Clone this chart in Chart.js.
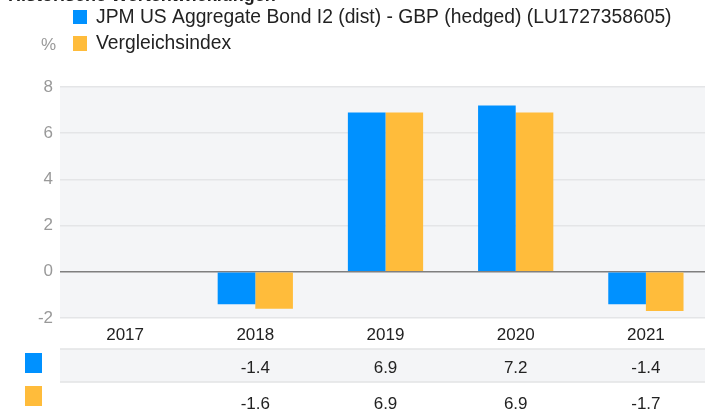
<!DOCTYPE html>
<html>
<head>
<meta charset="utf-8">
<script src="https://cdn.jsdelivr.net/npm/chart.js@4"></script>
<style>
  html, body { margin: 0; padding: 0; overflow: hidden; background: #fff; }
  #wrap { position: relative; width: 711px; height: 412px; }
  #title { position: absolute; left: 8px; top: -15px; font: bold 18px "Liberation Sans", Arial, sans-serif; color: #222; white-space: nowrap; }
</style>
</head>
<body>
<div id="wrap">
  <canvas id="barChart"></canvas>
  <div id="title">Historische Wertentwicklungen</div>
</div>
<script>
// Data
var years = ['2017', '2018', '2019', '2020', '2021'];
var fundValues = [null, -1.4, 6.9, 7.2, -1.4];
var indexValues = [null, -1.6, 6.9, 6.9, -1.7];
var fundName = 'JPM US Aggregate Bond I2 (dist) - GBP (hedged) (LU1727358605)';
var indexName = 'Vergleichsindex';
var blue = '#0091FF';
var orange = '#FFBC3B';
var FONT = '"Liberation Sans", Arial, sans-serif';

// Gray plot background
var plotBackground = {
    id: 'plotBackground',
    beforeDraw: function (chart) {
        var a = chart.chartArea, c = chart.ctx;
        c.save();
        c.fillStyle = '#f4f5f7';
        c.fillRect(a.left, a.top, a.right - a.left, a.bottom - a.top);
        c.restore();
    }
};

// Legend, unit label and value table
var extras = {
    id: 'extras',
    afterDraw: function (chart) {
        var c = chart.ctx, x = chart.scales.x, a = chart.chartArea;
        c.save();
        // legend
        c.font = '19.3px ' + FONT;
        c.textBaseline = 'middle';
        c.textAlign = 'left';
        c.fillStyle = blue;
        c.fillRect(73, 10, 14, 14);
        c.fillStyle = orange;
        c.fillRect(73, 36, 14, 15);
        c.fillStyle = '#222';
        c.fillText(fundName, 96, 18);
        c.fillText(indexName, 96, 44);
        c.fillStyle = '#999';
        c.font = '17px ' + FONT;
        c.fillText('%', 41, 45);

        // table
        c.fillStyle = '#f4f5f7';
        c.fillRect(a.left, 349, chart.width - a.left, 33);
        c.strokeStyle = '#e2e3e5';
        c.lineWidth = 1.5;
        c.beginPath();
        c.moveTo(a.left, 349); c.lineTo(chart.width, 349);
        c.moveTo(a.left, 382); c.lineTo(chart.width, 382);
        c.stroke();
        c.fillStyle = blue;
        c.fillRect(25, 353, 17, 20);
        c.fillStyle = orange;
        c.fillRect(25, 386, 17, 20);
        c.fillStyle = '#222';
        c.font = '17px ' + FONT;
        c.textAlign = 'center';
        years.forEach(function (y, i) {
            var px = x.getPixelForValue(i);
            if (fundValues[i] !== null) c.fillText(fundValues[i].toFixed(1), px, 368);
            if (indexValues[i] !== null) c.fillText(indexValues[i].toFixed(1), px, 404);
        });
        c.restore();
    }
};

var ctx = document.getElementById('barChart').getContext('2d');
var barChart = new Chart(ctx, {
    type: 'bar',
    data: {
        labels: years,
        datasets: [
            { label: fundName, data: fundValues, backgroundColor: blue },
            { label: indexName, data: indexValues, backgroundColor: orange }
        ]
    },
    options: {
        responsive: true,
        maintainAspectRatio: false,
        animation: false,
        categoryPercentage: 0.578,
        barPercentage: 1,
        layout: { padding: { top: 87, left: 0, right: 0, bottom: 68 } },
        plugins: {
            legend: { display: false },
            tooltip: { enabled: false }
        },
        scales: {
            x: {
                afterFit: function (s) { s.height = 26; },
                grid: { display: false, drawTicks: false },
                border: { display: false },
                ticks: { color: '#222', font: { family: FONT, size: 17 }, padding: 7 }
            },
            y: {
                min: -2,
                max: 8,
                afterFit: function (s) { s.width = 60; },
                border: { display: false },
                grid: {
                    drawTicks: false,
                    lineWidth: 1.5,
                    color: function (c) { return c.tick.value === 0 ? '#7f7f7f' : '#e4e5e7'; }
                },
                ticks: { stepSize: 2, color: '#999', padding: 7, font: { family: FONT, size: 17 } }
            }
        }
    },
    plugins: [plotBackground, extras]
});
</script>
</body>
</html>
